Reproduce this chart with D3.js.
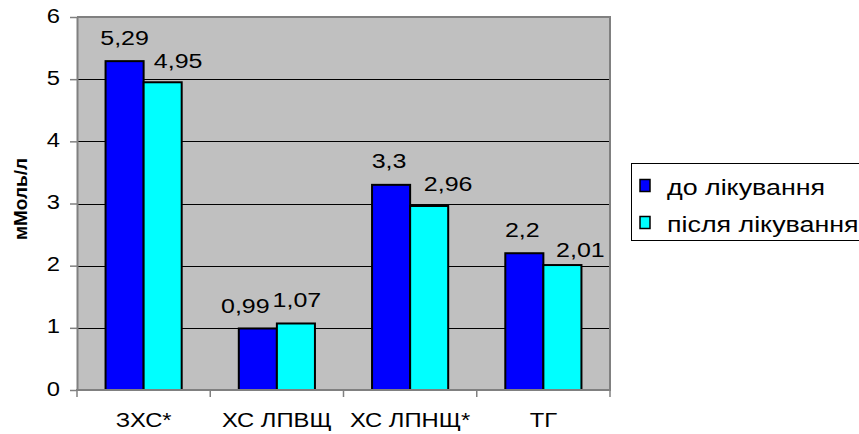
<!DOCTYPE html>
<html>
<head>
<meta charset="utf-8">
<script src="https://cdn.jsdelivr.net/npm/d3@7/dist/d3.min.js"></script>
<style>
  html, body { margin: 0; padding: 0; background: #fff; }
  svg { display: block; font-family: "Liberation Sans", Arial, sans-serif; }
</style>
</head>
<body>
<svg id="chart" width="859" height="434"></svg>
<script>
// Lipid profile values (mmol/l) before and after treatment
const categories = ["ЗХС*", "ХС ЛПВЩ", "ХС ЛПНЩ*", "ТГ"];
const seriesNames = ["до лікування", "після лікування"];
const beforeValues = [5.29, 0.99, 3.3, 2.2];
const afterValues = [4.95, 1.07, 2.96, 2.01];
const yTickValues = [0, 1, 2, 3, 4, 5, 6];
const yTitle = "мМоль/л";
const seriesColors = ["#0000ff", "#00ffff"];

// hand-placed value label offsets (px): horizontal shift and baseline gap above the bar
const labelShiftX = [[0, -12.5, -2, -2], [15.5, 1, 19, 18]];
const labelGapY = [[15.7, 15.6, 17, 16.6], [14, 16, 15, 8.3]];

const series = [beforeValues, afterValues];
const svg = d3.select("#chart");

const plot = { left: 77, right: 610, top: 17, bottom: 390 };
const stretch = 1.22;           // horizontal text stretch
const fmt = v => String(v).replace(".", ",");

const x = d3.scaleBand().domain(categories).range([plot.left, plot.right]).paddingInner(0).paddingOuter(0);
const x1 = d3.scaleBand().domain(d3.range(seriesNames.length)).range([0, x.bandwidth()])
  .paddingInner(0).paddingOuter(0.75);
const y = d3.scaleLinear().domain([0, 6]).range([plot.bottom, plot.top]);

// plot background
svg.append("rect")
  .attr("x", plot.left).attr("y", plot.top)
  .attr("width", plot.right - plot.left).attr("height", plot.bottom - plot.top)
  .attr("fill", "#c0c0c0");

// gridlines
svg.append("g").selectAll("line")
  .data(yTickValues.filter(v => v > 0 && v < 6))
  .join("line")
  .attr("x1", plot.left).attr("x2", plot.right)
  .attr("y1", d => Math.round(y(d)) + 0.5).attr("y2", d => Math.round(y(d)) + 0.5)
  .attr("stroke", "#000").attr("stroke-width", 1);

// top and right border of the plot area
svg.append("path")
  .attr("d", `M${plot.left},${plot.top}H${plot.right}V${plot.bottom}`)
  .attr("fill", "none").attr("stroke", "#808080").attr("stroke-width", 2);

// bars
const groups = svg.append("g").selectAll("g")
  .data(categories)
  .join("g")
  .attr("transform", d => `translate(${x(d)},0)`);

groups.selectAll("rect")
  .data((d, i) => series.map((s, k) => ({ k, i, v: s[i] })))
  .join("rect")
  .attr("x", d => x1(d.k))
  .attr("width", x1.bandwidth())
  .attr("y", d => y(d.v))
  .attr("height", d => y(0) - y(d.v))
  .attr("fill", d => seriesColors[d.k])
  .attr("stroke", "#000").attr("stroke-width", 2);

// value labels
groups.selectAll("text")
  .data((d, i) => series.map((s, k) => ({ k, i, v: s[i] })))
  .join("text")
  .attr("transform", d => {
    const cx = x1(d.k) + x1.bandwidth() / 2 + labelShiftX[d.k][d.i];
    const by = y(d.v) - labelGapY[d.k][d.i];
    return `translate(${cx},${by}) scale(${stretch},1)`;
  })
  .attr("text-anchor", "middle")
  .attr("font-size", 20.5)
  .attr("fill", "#000")
  .text(d => fmt(d.v));

// y axis
const yAxis = svg.append("g")
  .attr("transform", `translate(${plot.left},0)`)
  .call(d3.axisLeft(y).tickValues(yTickValues).tickSize(7).tickSizeOuter(0).tickFormat(d => d));
yAxis.select(".domain").attr("stroke", "#808080").attr("stroke-width", 2);
yAxis.selectAll(".tick line").attr("stroke", "#808080").attr("stroke-width", 1.5);
yAxis.selectAll(".tick text")
  .attr("x", null).attr("dy", null)
  .attr("transform", `translate(-17,5) scale(${stretch},1)`)
  .attr("font-size", 19.5)
  .attr("font-family", "Liberation Sans, Arial, sans-serif")
  .attr("fill", "#000");

// x axis with labels centred under each category
const xAxis = svg.append("g")
  .attr("transform", `translate(0,${plot.bottom})`)
  .call(d3.axisBottom(x).tickSize(0).tickSizeOuter(0));
xAxis.select(".domain").attr("stroke", "#808080").attr("stroke-width", 2)
  .attr("d", `M${plot.left - 1},0H${plot.right + 1}`);
xAxis.selectAll(".tick text")
  .attr("y", null).attr("dy", null)
  .attr("transform", `translate(0,37) scale(${stretch},1)`)
  .attr("font-size", 19.5)
  .attr("font-family", "Liberation Sans, Arial, sans-serif")
  .attr("fill", "#000");

// tick marks on category boundaries
const boundaries = categories.map(c => x(c)).concat([x.range()[1]]);
xAxis.append("g").selectAll("line")
  .data(boundaries)
  .join("line")
  .attr("x1", d => d).attr("x2", d => d)
  .attr("y1", 0).attr("y2", 7)
  .attr("stroke", "#808080").attr("stroke-width", 1.5);

// y axis title
svg.append("text")
  .attr("transform", "translate(27,199) rotate(-90)")
  .attr("text-anchor", "middle")
  .attr("font-size", 19)
  .attr("font-weight", "bold")
  .attr("fill", "#000")
  .text(yTitle);

// legend
const legend = svg.append("g");
legend.append("rect")
  .attr("x", 631.5).attr("y", 163.5)
  .attr("width", 240).attr("height", 77)
  .attr("fill", "#fff").attr("stroke", "#000").attr("stroke-width", 1);
const items = legend.selectAll("g.item")
  .data(seriesNames)
  .join("g")
  .attr("class", "item")
  .attr("transform", (d, i) => `translate(0,${i * 37})`);
items.append("rect")
  .attr("x", 640).attr("y", 179.5)
  .attr("width", 10).attr("height", 12)
  .attr("fill", (d, i) => seriesColors[i])
  .attr("stroke", "#000").attr("stroke-width", 1.5);
items.append("text")
  .attr("transform", `translate(667,195) scale(${stretch},1)`)
  .attr("font-size", 22)
  .attr("fill", "#000")
  .text(d => d);
</script>
</body>
</html>
